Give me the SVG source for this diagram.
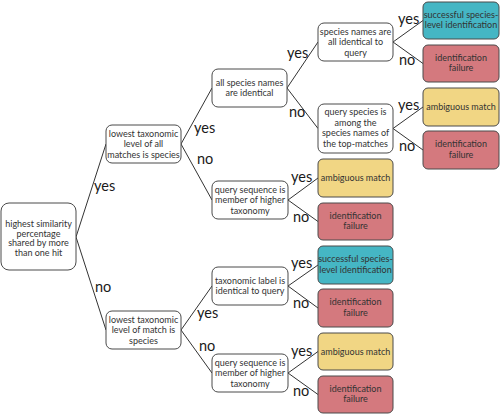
<svg xmlns="http://www.w3.org/2000/svg" width="500" height="414" viewBox="0 0 500 414">
<style>
.n{fill:#ffffff;stroke:#4a4a4a;stroke-width:1}
.ok{fill:#45b6c4;stroke:#4a4a4a;stroke-width:1}
.fail{fill:#d4797e;stroke:#4a4a4a;stroke-width:1}
.amb{fill:#f1d684;stroke:#4a4a4a;stroke-width:1}
text{font-family:Lato,"Liberation Sans",sans-serif;fill:#333;}
.t{font-size:9px;text-anchor:middle}
.l{font-size:14.5px;fill:#1a1a1a}
#connectors line{stroke:#333;stroke-width:1}
</style>
<rect width="500" height="414" fill="#ffffff"/>
<g id="connectors">
<line x1="76" y1="237" x2="106" y2="144"/>
<line x1="76" y1="237" x2="106" y2="330"/>
<line x1="181" y1="144" x2="212" y2="88"/>
<line x1="181" y1="144" x2="212" y2="200"/>
<line x1="181" y1="330" x2="212" y2="286"/>
<line x1="181" y1="330" x2="212" y2="373"/>
<line x1="287" y1="88" x2="318" y2="42"/>
<line x1="287" y1="88" x2="318" y2="128.5"/>
<line x1="288" y1="200" x2="318" y2="178"/>
<line x1="288" y1="200" x2="318" y2="221.5"/>
<line x1="288" y1="286" x2="318" y2="265"/>
<line x1="288" y1="286" x2="318" y2="308"/>
<line x1="288" y1="373" x2="318" y2="351.5"/>
<line x1="288" y1="373" x2="318" y2="394.5"/>
<line x1="393" y1="42" x2="423" y2="20.5"/>
<line x1="393" y1="42" x2="423" y2="63.5"/>
<line x1="393" y1="128.5" x2="423" y2="107"/>
<line x1="393" y1="128.5" x2="423" y2="150"/>
<text class="l" x="94" y="191">yes</text>
<text class="l" x="95" y="292">no</text>
<text class="l" x="194" y="133">yes</text>
<text class="l" x="197" y="164">no</text>
<text class="l" x="287" y="58">yes</text>
<text class="l" x="289" y="117">no</text>
<text class="l" x="398" y="24">yes</text>
<text class="l" x="399" y="65">no</text>
<text class="l" x="398" y="110">yes</text>
<text class="l" x="399" y="151">no</text>
<text class="l" x="291" y="182">yes</text>
<text class="l" x="293" y="222">no</text>
<text class="l" x="197" y="318">yes</text>
<text class="l" x="199" y="351">no</text>
<text class="l" x="291" y="268">yes</text>
<text class="l" x="293" y="308">no</text>
<text class="l" x="291" y="356">yes</text>
<text class="l" x="293" y="396">no</text>
</g>
<g id="root">
<rect class="n" x="1" y="203" width="75" height="67" rx="8"/>
<text class="t" x="38.5" y="227.3">highest similarity</text>
<text class="t" x="38.5" y="236.8">percentage</text>
<text class="t" x="38.5" y="246.3">shared by more</text>
<text class="t" x="38.5" y="255.8">than one hit</text>
</g>
<g id="n-all-species">
<rect class="n" x="106" y="125" width="75" height="38" rx="6"/>
<text class="t" x="143.5" y="136.6">lowest taxonomic</text>
<text class="t" x="143.5" y="147.1">level of all</text>
<text class="t" x="143.5" y="157.6">matches is species</text>
</g>
<g id="n-match-species">
<rect class="n" x="106" y="311" width="75" height="38" rx="6"/>
<text class="t" x="143.5" y="322.6">lowest taxonomic</text>
<text class="t" x="143.5" y="333.1">level of match is</text>
<text class="t" x="143.5" y="343.6">species</text>
</g>
<g id="n-identical">
<rect class="n" x="212" y="69" width="75" height="38" rx="6"/>
<text class="t" x="249.5" y="85.8">all species names</text>
<text class="t" x="249.5" y="96.3">are identical</text>
</g>
<g id="n-member-1">
<rect class="n" x="212" y="181" width="76" height="38" rx="6"/>
<text class="t" x="250" y="192.6">query sequence is</text>
<text class="t" x="250" y="203.1">member of higher</text>
<text class="t" x="250" y="213.6">taxonomy</text>
</g>
<g id="n-label">
<rect class="n" x="212" y="267" width="76" height="38" rx="6"/>
<text class="t" x="250" y="283.8">taxonomic label is</text>
<text class="t" x="250" y="294.3">identical to query</text>
</g>
<g id="n-member-2">
<rect class="n" x="212" y="354" width="76" height="38" rx="6"/>
<text class="t" x="250" y="365.6">query sequence is</text>
<text class="t" x="250" y="376.1">member of higher</text>
<text class="t" x="250" y="386.6">taxonomy</text>
</g>
<g id="n-query">
<rect class="n" x="318" y="23" width="75" height="38" rx="6"/>
<text class="t" x="355.5" y="34.6">species names are</text>
<text class="t" x="355.5" y="45.1">all identical to</text>
<text class="t" x="355.5" y="55.6">query</text>
</g>
<g id="n-among">
<rect class="n" x="318" y="104" width="75" height="49" rx="6"/>
<text class="t" x="355.5" y="115.3">query species is</text>
<text class="t" x="355.5" y="125.8">among the</text>
<text class="t" x="355.5" y="136.3">species names of</text>
<text class="t" x="355.5" y="146.8">the top-matches</text>
</g>
<g id="leaf-1">
<rect class="ok" x="423" y="2" width="76" height="37" rx="5"/>
<text class="t" x="461" y="17.8">successful species-</text>
<text class="t" x="461" y="28.3">level identification</text>
</g>
<g id="leaf-2">
<rect class="fail" x="423" y="45" width="76" height="37" rx="5"/>
<text class="t" x="461" y="60.8">identification</text>
<text class="t" x="461" y="71.3">failure</text>
</g>
<g id="leaf-3">
<rect class="amb" x="423" y="88" width="76" height="38" rx="5"/>
<text class="t" x="461" y="110.1">ambiguous match</text>
</g>
<g id="leaf-4">
<rect class="fail" x="423" y="131" width="76" height="38" rx="5"/>
<text class="t" x="461" y="147.3">identification</text>
<text class="t" x="461" y="157.8">failure</text>
</g>
<g id="leaf-5">
<rect class="amb" x="318" y="159" width="75" height="38" rx="5"/>
<text class="t" x="355.5" y="181.1">ambiguous match</text>
</g>
<g id="leaf-6">
<rect class="fail" x="318" y="203" width="75" height="37" rx="5"/>
<text class="t" x="355.5" y="218.8">identification</text>
<text class="t" x="355.5" y="229.3">failure</text>
</g>
<g id="leaf-7">
<rect class="ok" x="318" y="246" width="75" height="38" rx="5"/>
<text class="t" x="355.5" y="262.3">successful species-</text>
<text class="t" x="355.5" y="272.8">level identification</text>
</g>
<g id="leaf-8">
<rect class="fail" x="318" y="289" width="75" height="38" rx="5"/>
<text class="t" x="355.5" y="305.3">identification</text>
<text class="t" x="355.5" y="315.8">failure</text>
</g>
<g id="leaf-9">
<rect class="amb" x="318" y="333" width="75" height="37" rx="5"/>
<text class="t" x="355.5" y="354.6">ambiguous match</text>
</g>
<g id="leaf-10">
<rect class="fail" x="318" y="376" width="75" height="37" rx="5"/>
<text class="t" x="355.5" y="391.8">identification</text>
<text class="t" x="355.5" y="402.3">failure</text>
</g>
</svg>
